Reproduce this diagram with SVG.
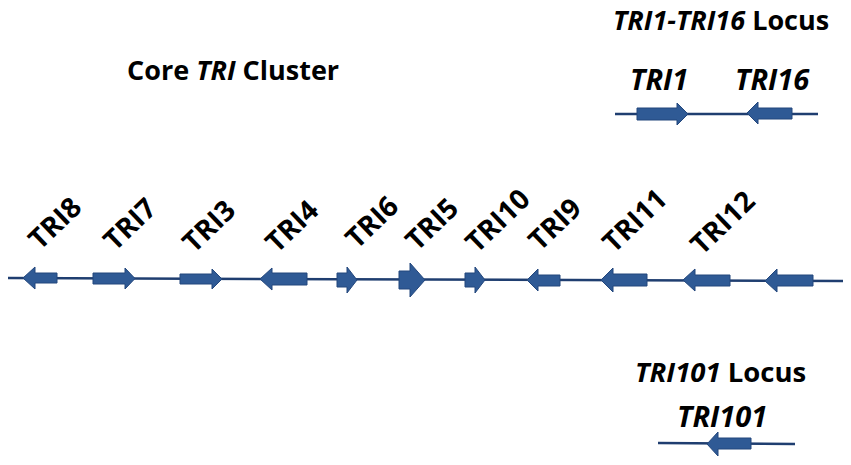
<svg xmlns="http://www.w3.org/2000/svg" width="851" height="465" viewBox="0 0 851 465">
<style>
.t{font-family:"Open Sans","Liberation Sans",sans-serif;font-weight:700;fill:#000}
.i{font-style:italic}
.r{font-size:28px}
.g{fill:#2f5a95;stroke:#22467c;stroke-width:1}
.ln{stroke:#1f3e70;stroke-width:2.5;fill:none}
</style>
<rect width="851" height="465" fill="#fff"/>
<g id="titles">
<text class="t" x="127" y="80" font-size="27">Core <tspan class="i">TRI</tspan> Cluster</text>
<text class="t" x="613" y="30" font-size="27"><tspan class="i">TRI1-TRI16</tspan> Locus</text>
<text class="t" x="635" y="382" font-size="27.5"><tspan class="i">TRI101</tspan> Locus</text>
</g>
<g id="connectors">
<line class="ln" x1="8" y1="278" x2="843" y2="281"/>
<line class="ln" x1="615" y1="114" x2="818" y2="114"/>
<line class="ln" x1="658" y1="443" x2="795" y2="444"/>
</g>
<g id="TRI8"><path class="g" d="M57,273 L35,273 L35,267 L23,278 L35,289 L35,283 L57,283 Z"/><text class="t r" x="40" y="251" transform="rotate(-44 40 251)">TRI8</text></g>
<g id="TRI7"><path class="g" d="M93,273 L125,273 L125,268 L135,278.5 L125,289 L125,284 L93,284 Z"/><text class="t r" x="115" y="252" transform="rotate(-44 115 252)">TRI7</text></g>
<g id="TRI3"><path class="g" d="M180,274 L212,274 L212,269 L222,279 L212,289 L212,284 L180,284 Z"/><text class="t r" x="194" y="254" transform="rotate(-44 194 254)">TRI3</text></g>
<g id="TRI4"><path class="g" d="M307,273 L272,273 L272,268 L260,279 L272,290 L272,285 L307,285 Z"/><text class="t r" x="277" y="254" transform="rotate(-44 277 254)">TRI4</text></g>
<g id="TRI6"><path class="g" d="M337,273 L347,273 L347,267 L357,280 L347,293 L347,287 L337,287 Z"/><text class="t r" x="357" y="250" transform="rotate(-44 357 250)">TRI6</text></g>
<g id="TRI5"><path class="g" d="M399,271 L410,271 L410,263 L425,280 L410,297 L410,289 L399,289 Z"/><text class="t r" x="417" y="252" transform="rotate(-44 417 252)">TRI5</text></g>
<g id="TRI10"><path class="g" d="M465,273 L475,273 L475,267 L485,280 L475,293 L475,287 L465,287 Z"/><text class="t r" x="477" y="254" transform="rotate(-44 477 254)">TRI10</text></g>
<g id="TRI9"><path class="g" d="M560,275 L538,275 L538,269 L527,280 L538,291 L538,286 L560,286 Z"/><text class="t r" x="540" y="252" transform="rotate(-44 540 252)">TRI9</text></g>
<g id="TRI11"><path class="g" d="M647,274 L613,274 L613,268 L601,280 L613,292 L613,286 L647,286 Z"/><text class="t r" x="614" y="254" transform="rotate(-44 614 254)">TRI11</text></g>
<g id="TRI12"><path class="g" d="M730,275 L695,275 L695,269 L683,280 L695,291 L695,286 L730,286 Z"/><text class="t r" x="702" y="256" transform="rotate(-44 702 256)">TRI12</text></g>
<g id="TRI13"><path class="g" d="M813,275 L777,275 L777,269 L765,281 L777,292 L777,286 L813,286 Z"/></g>
<g id="TRI1"><path class="g" d="M637,108 L677,108 L677,103 L688,114 L677,125 L677,120 L637,120 Z"/><text class="t i" x="630" y="90" font-size="29">TRI1</text></g>
<g id="TRI16"><path class="g" d="M792,108 L758,108 L758,102 L747,113 L758,124 L758,119 L792,119 Z"/><text class="t i" x="735" y="90" font-size="29">TRI16</text></g>
<g id="TRI101"><path class="g" d="M751,438 L718,438 L718,432 L707,444 L718,456 L718,449 L751,449 Z"/><text class="t i" x="677" y="427" font-size="29">TRI101</text></g>
</svg>
